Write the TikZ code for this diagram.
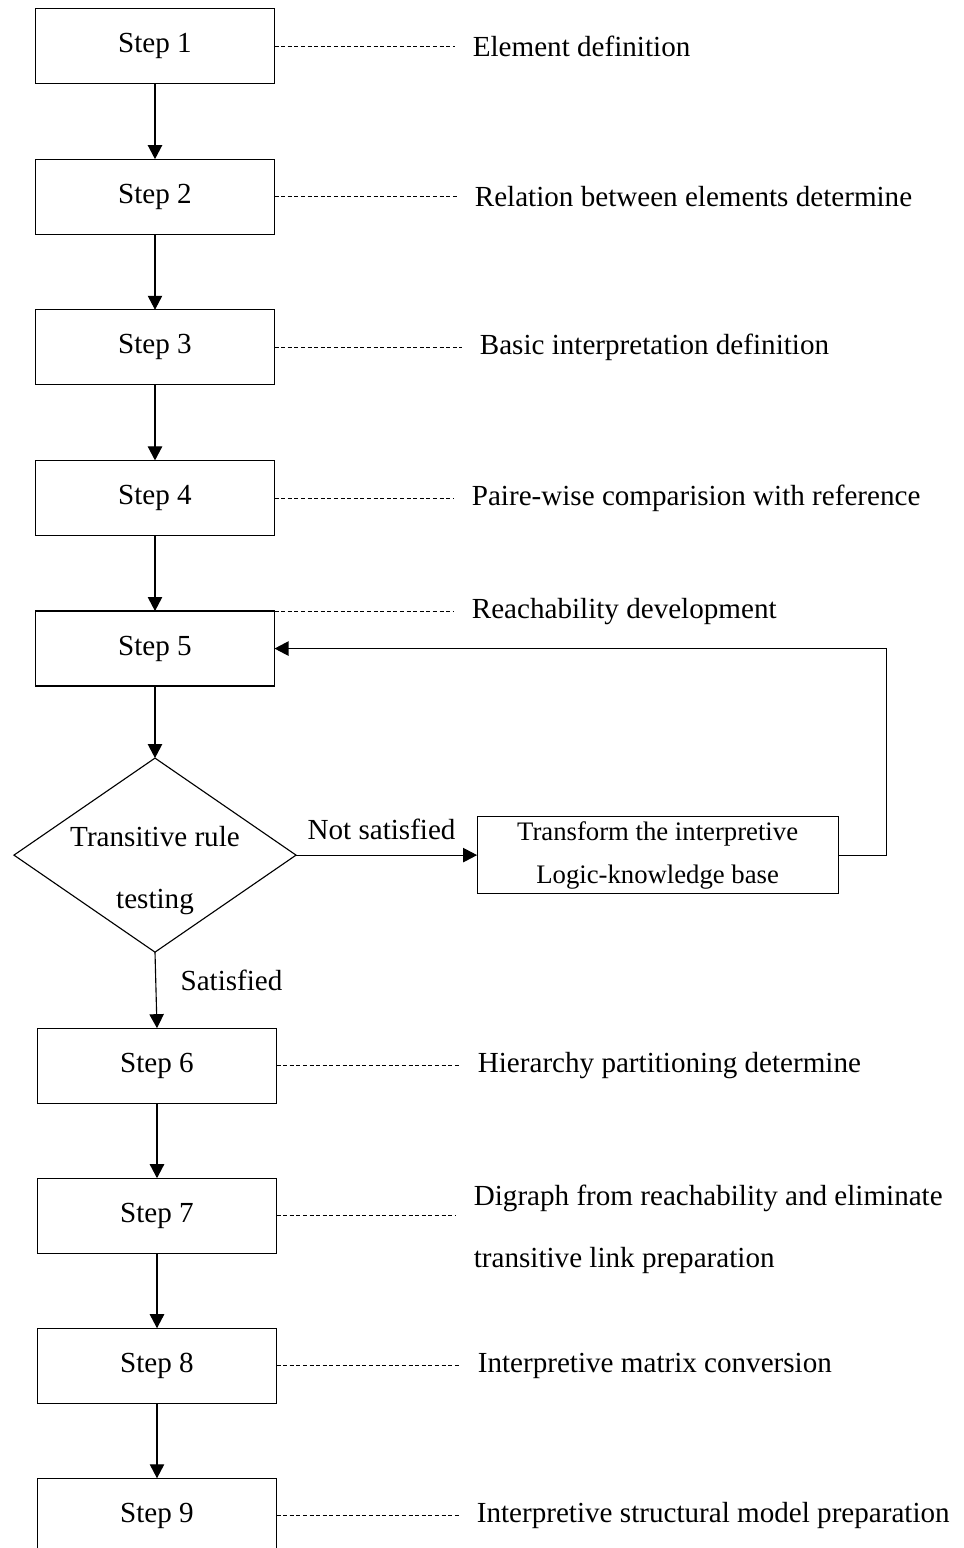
\documentclass[tikz,border=0pt]{standalone}
\usepackage{fontspec}
\setmainfont{Liberation Serif}
\usetikzlibrary{positioning,arrows.meta,shapes.geometric}
\tikzset{
  flow/.style={-{Triangle[length=3.5mm,width=3.6mm]},line width=0.8pt},
  guide/.style={dash pattern=on 1mm off 0.65mm,line width=0.6pt,shorten >=0.45cm},
  stepbox/.style={draw,line width=0.9pt,outer sep=0pt,minimum width=5.975cm,
    minimum height=1.875cm,font=\fontsize{20.7}{44}\selectfont},
  decision/.style={diamond,draw,line width=0.8pt,outer sep=0pt,minimum width=7.05cm,
    minimum height=4.85cm,inner sep=0pt},
  fixbox/.style={draw,line width=0.8pt,outer sep=0pt,minimum width=9.025cm,minimum height=1.9cm,
    align=center,font=\fontsize{19}{30.5}\selectfont},
  note/.style={inner sep=0pt,align=left,font=\fontsize{20.7}{44}\selectfont}
}
\begin{document}
\begin{tikzpicture}[x=0.025cm,y=-0.025cm]
  \useasboundingbox (0,0) rectangle (963,1548);
  % main column
  \node[stepbox] (s1) at (155,46) {Step 1};
  \node[stepbox,below=1.89cm of s1] (s2) {Step 2};
  \node[stepbox,below=1.89cm of s2] (s3) {Step 3};
  \node[stepbox,below=1.89cm of s3] (s4) {Step 4};
  \node[stepbox,below=1.89cm of s4] (s5) {Step 5};
  \node[decision,below=1.8cm of s5,
    label={[note,align=center,yshift=-0.375cm]center:Transitive rule\\testing}] (test) {};
  \node[fixbox,right=4.525cm of test] (fix) {Transform the interpretive\\Logic-knowledge base};
  \node[stepbox,below=1.9cm of test,xshift=0.05cm] (s6) {Step 6};
  \node[stepbox,below=1.875cm of s6] (s7) {Step 7};
  \node[stepbox,below=1.875cm of s7] (s8) {Step 8};
  \node[stepbox,below=1.875cm of s8] (s9) {Step 9};
  % descriptions
  \node[note,right=4.95cm of s1] (l1) {Element definition};
  \node[note,right=5.0cm of s2] (l2) {Relation between elements determine};
  \node[note,right=5.125cm of s3] (l3) {Basic interpretation definition};
  \node[note,right=4.925cm of s4] (l4) {Paire-wise comparision with reference};
  \node[note,right=4.925cm of s5.north east] (l5) {Reachability development};
  \node[note,right=5.025cm of s6] (l6) {Hierarchy partitioning determine};
  \node[note,right=4.925cm of s7,yshift=-0.35cm] (l7) {Digraph from reachability and eliminate\\transitive link preparation};
  \node[note,right=5.025cm of s8] (l8) {Interpretive matrix conversion};
  \node[note,right=5.0cm of s9] (l9) {Interpretive structural model preparation};
  \foreach \i in {1,2,3,4,6,7,8,9}
    \draw[guide] (s\i.east) -- (s\i.east -| l\i.west);
  \draw[guide] (s5.north east) -- (s5.north east -| l5.west);
  % arrows
  \draw[flow] (s1) -- (s2);
  \draw[flow] (s2) -- (s3);
  \draw[flow] (s3) -- (s4);
  \draw[flow] (s4) -- (s5);
  \draw[flow] (s5) -- (test);
  \draw[flow] (test.east) -- node[note,midway,above=0.375cm,xshift=-0.125cm] {Not satisfied} (fix.west);
  \draw[flow] (fix.east) -- ++(1.2cm,0) |- (s5.east);
  \draw[flow] (test.south) -- node[note,midway,right=0.6cm,yshift=0.25cm] {Satisfied} (s6.north);
  \draw[flow] (s6) -- (s7);
  \draw[flow] (s7) -- (s8);
  \draw[flow] (s8) -- (s9);
\end{tikzpicture}
\end{document}
